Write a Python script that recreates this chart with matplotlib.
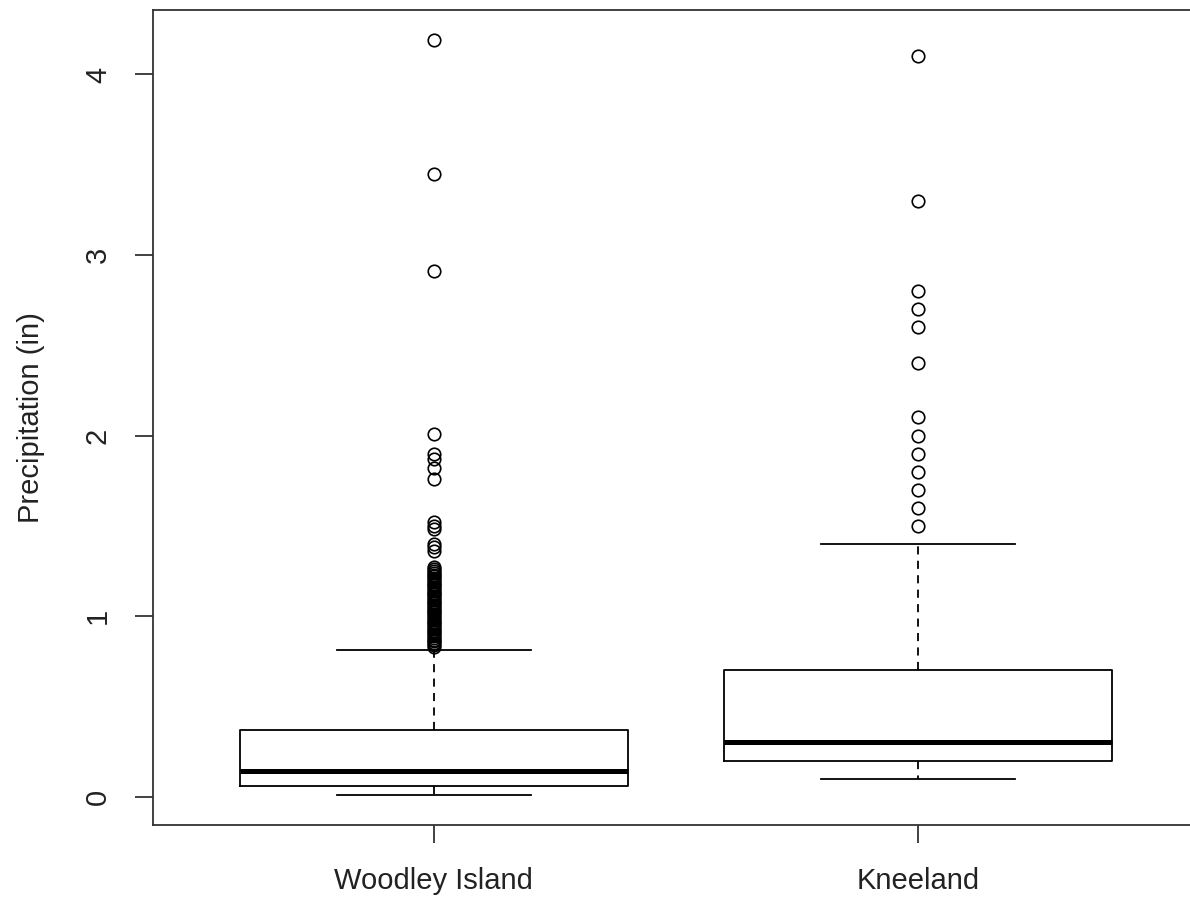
import numpy as np
import matplotlib.pyplot as plt

plt.rcParams['font.family'] = ['Liberation Sans', 'DejaVu Sans']

# stations and five-number summaries (inches)
stations = ['Woodley Island', 'Kneeland']
whisker_low = [0.01, 0.10]
q1 = [0.06, 0.20]
median = [0.14, 0.30]
q3 = [0.37, 0.70]
whisker_high = [0.81, 1.40]

# outliers
woodley_out = [0.83, 0.84, 0.85, 0.86, 0.87, 0.88, 0.89, 0.90, 0.91, 0.92,
               0.93, 0.94, 0.95, 0.96, 0.97, 0.98, 0.99, 1.00, 1.01, 1.02,
               1.03, 1.04, 1.05, 1.06, 1.07, 1.08, 1.09, 1.10, 1.11, 1.12,
               1.13, 1.14, 1.15, 1.16, 1.17, 1.18, 1.19, 1.20, 1.21, 1.22,
               1.23, 1.24, 1.25, 1.26, 1.27,
               1.36, 1.38, 1.40, 1.48, 1.50, 1.52,
               1.76, 1.82, 1.87, 1.90, 2.01, 2.91, 3.45, 4.19]
kneeland_out = [1.5, 1.6, 1.7, 1.8, 1.9, 2.0, 2.1, 2.4, 2.6, 2.7, 2.8, 3.3, 4.1]
fliers = [woodley_out, kneeland_out]

stats = []
for i in range(len(stations)):
    stats.append(dict(label=stations[i], whislo=whisker_low[i], q1=q1[i],
                      med=median[i], q3=q3[i], whishi=whisker_high[i],
                      fliers=fliers[i]))

fig = plt.figure(figsize=(11.9, 8.97), dpi=100)
# R-like plot region; right edge runs just past the figure
ax = fig.add_axes([153/1190, 72/897, 1046/1190, 815/897])

lw = 1.3
ax.bxp(stats, positions=[1, 2], widths=0.8, capwidths=0.4,
       boxprops=dict(color='black', linewidth=lw),
       medianprops=dict(color='black', linewidth=3.6, solid_capstyle='butt'),
       whiskerprops=dict(color='black', linewidth=lw, linestyle=(0, (4.5, 3.5))),
       capprops=dict(color='black', linewidth=lw),
       flierprops=dict(marker='o', markerfacecolor='none', markeredgecolor='black',
                       markersize=9, markeredgewidth=1.2))

# axis ranges like R (4% padding)
all_vals = np.concatenate([whisker_low, whisker_high] + fliers)
lo, hi = all_vals.min(), all_vals.max()
pad = 0.04 * (hi - lo)
ax.set_ylim(lo - pad, hi + pad)
ax.set_xlim(0.42, 2.58)

for s in ax.spines.values():
    s.set_linewidth(lw)
    s.set_color('#333333')

ax.set_yticks([0, 1, 2, 3, 4])
ax.set_xticks([1, 2])
ax.set_xticklabels(stations)
ax.tick_params(axis='both', direction='out', length=13, width=lw,
               color='#333333', labelsize=21, labelcolor='#222222')
ax.tick_params(axis='y', pad=26.6)
ax.tick_params(axis='x', pad=17)
plt.setp(ax.get_yticklabels(), rotation=90, ha='center', va='center')

ax.set_ylabel('Precipitation (in)', fontsize=21, color='#222222', va='center')
ax.yaxis.set_label_coords((31 - 153) / 1046, 0.5)

plt.savefig('out.png', dpi=100)
